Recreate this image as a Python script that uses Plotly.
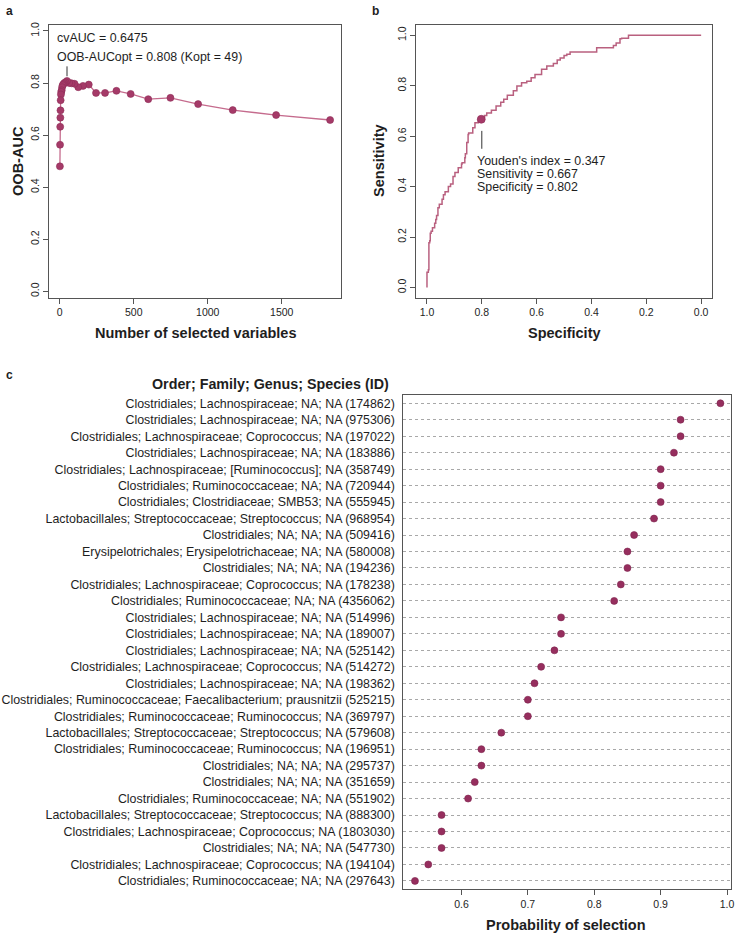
import plotly.graph_objects as go

# ---------------- Panel a data ----------------
n_vars = [1827, 1462, 1169, 935, 748, 598, 479, 383, 306, 245, 196, 157, 125, 100,
          80, 64, 49, 39, 31, 25, 20, 16, 13, 10, 8, 6, 5, 4, 3, 2, 1]
oob_auc = [0.658, 0.677, 0.696, 0.719, 0.743, 0.738, 0.758, 0.770, 0.762, 0.762,
           0.794, 0.789, 0.784, 0.797, 0.799, 0.800, 0.808, 0.803, 0.800, 0.796,
           0.792, 0.784, 0.772, 0.766, 0.756, 0.734, 0.695, 0.667, 0.632, 0.563, 0.480]
a_xticks = [0, 500, 1000, 1500]
unit_ticks = [0.0, 0.2, 0.4, 0.6, 0.8, 1.0]
unit_ticklabels = ["0.0", "0.2", "0.4", "0.6", "0.8", "1.0"]

# ---------------- Panel b data ----------------
roc_spec = [1.000, 1.000, 0.995, 0.993, 0.993, 0.990, 0.988, 0.985, 0.980, 0.972,
            0.968, 0.965, 0.960, 0.955, 0.945, 0.940, 0.934, 0.922, 0.914, 0.905,
            0.898, 0.886, 0.874, 0.872, 0.862, 0.860, 0.855, 0.855, 0.850, 0.848,
            0.833, 0.825, 0.813, 0.802, 0.790, 0.782, 0.765, 0.748, 0.731, 0.720,
            0.707, 0.685, 0.672, 0.655, 0.636, 0.620, 0.606, 0.582, 0.563, 0.539,
            0.525, 0.514, 0.500, 0.490, 0.478, 0.466, 0.381, 0.378, 0.320, 0.310,
            0.296, 0.290, 0.265, 0.247, 0.000]
roc_sens = [0.000, 0.057, 0.060, 0.070, 0.150, 0.177, 0.185, 0.215, 0.223, 0.237,
            0.255, 0.270, 0.285, 0.316, 0.330, 0.350, 0.368, 0.380, 0.400, 0.410,
            0.440, 0.456, 0.475, 0.490, 0.495, 0.514, 0.530, 0.560, 0.575, 0.607,
            0.613, 0.633, 0.653, 0.667, 0.675, 0.682, 0.692, 0.703, 0.720, 0.735,
            0.746, 0.762, 0.780, 0.799, 0.812, 0.818, 0.832, 0.845, 0.865, 0.878,
            0.888, 0.902, 0.910, 0.920, 0.925, 0.934, 0.934, 0.951, 0.951, 0.960,
            0.970, 0.986, 0.988, 1.000, 1.000]
youden_spec = [0.802]
youden_sens = [0.667]
b_xticks = [1.0, 0.8, 0.6, 0.4, 0.2, 0.0]
b_xticklabels = ["1.0", "0.8", "0.6", "0.4", "0.2", "0.0"]

# ---------------- Panel c data ----------------
taxa = [
    "Clostridiales; Lachnospiraceae; NA; NA (174862)",
    "Clostridiales; Lachnospiraceae; NA; NA (975306)",
    "Clostridiales; Lachnospiraceae; Coprococcus; NA (197022)",
    "Clostridiales; Lachnospiraceae; NA; NA (183886)",
    "Clostridiales; Lachnospiraceae; [Ruminococcus]; NA (358749)",
    "Clostridiales; Ruminococcaceae; NA; NA (720944)",
    "Clostridiales; Clostridiaceae; SMB53; NA (555945)",
    "Lactobacillales; Streptococcaceae; Streptococcus; NA (968954)",
    "Clostridiales; NA; NA; NA (509416)",
    "Erysipelotrichales; Erysipelotrichaceae; NA; NA (580008)",
    "Clostridiales; NA; NA; NA (194236)",
    "Clostridiales; Lachnospiraceae; Coprococcus; NA (178238)",
    "Clostridiales; Ruminococcaceae; NA; NA (4356062)",
    "Clostridiales; Lachnospiraceae; NA; NA (514996)",
    "Clostridiales; Lachnospiraceae; NA; NA (189007)",
    "Clostridiales; Lachnospiraceae; NA; NA (525142)",
    "Clostridiales; Lachnospiraceae; Coprococcus; NA (514272)",
    "Clostridiales; Lachnospiraceae; NA; NA (198362)",
    "Clostridiales; Ruminococcaceae; Faecalibacterium; prausnitzii (525215)",
    "Clostridiales; Ruminococcaceae; Ruminococcus; NA (369797)",
    "Lactobacillales; Streptococcaceae; Streptococcus; NA (579608)",
    "Clostridiales; Ruminococcaceae; Ruminococcus; NA (196951)",
    "Clostridiales; NA; NA; NA (295737)",
    "Clostridiales; NA; NA; NA (351659)",
    "Clostridiales; Ruminococcaceae; NA; NA (551902)",
    "Lactobacillales; Streptococcaceae; Streptococcus; NA (888300)",
    "Clostridiales; Lachnospiraceae; Coprococcus; NA (1803030)",
    "Clostridiales; NA; NA; NA (547730)",
    "Clostridiales; Lachnospiraceae; Coprococcus; NA (194104)",
    "Clostridiales; Ruminococcaceae; NA; NA (297643)",
]
prob_sel = [0.99, 0.93, 0.93, 0.92, 0.90, 0.90, 0.90, 0.89, 0.86, 0.85,
            0.85, 0.84, 0.83, 0.75, 0.75, 0.74, 0.72, 0.71, 0.70, 0.70,
            0.66, 0.63, 0.63, 0.62, 0.61, 0.57, 0.57, 0.57, 0.55, 0.53]
c_xticks = [0.6, 0.7, 0.8, 0.9, 1.0]
c_xticklabels = ["0.6", "0.7", "0.8", "0.9", "1.0"]

# ---------------- styling ----------------
W, H = 742, 935
FONT = "Liberation Sans, Arial, Helvetica, sans-serif"
TXT = "#1e1e1e"
LINE_COL = "#c56b8d"
MARK_COL = "#a53a68"
MARK_EDGE = "#8e2d58"
DOT_COL = "#962e5e"
AX_COL = "#555555"
TICK_SIZE = 10.5

def px_x(p):
    return p / W

def px_y(p):
    return 1 - p / H

fig = go.Figure()

fig.add_trace(go.Scatter(
    x=n_vars, y=oob_auc, mode="lines+markers",
    line=dict(color=LINE_COL, width=1.3),
    marker=dict(size=7, color=MARK_COL, line=dict(color=MARK_EDGE, width=0.6)),
    xaxis="x", yaxis="y", hoverinfo="x+y"))

fig.add_trace(go.Scatter(
    x=roc_spec, y=roc_sens, mode="lines", line=dict(color="#b9607f", width=1.5, shape="vh"),
    xaxis="x2", yaxis="y2"))
fig.add_trace(go.Scatter(
    x=youden_spec, y=youden_sens, mode="markers",
    marker=dict(size=8, color=MARK_COL, line=dict(color=MARK_EDGE, width=0.6)),
    xaxis="x2", yaxis="y2"))

c_pos = list(range(1, len(taxa) + 1))
fig.add_trace(go.Scatter(
    x=prob_sel, y=c_pos, mode="markers",
    marker=dict(size=7, color=DOT_COL, line=dict(color="#7e244d", width=0.6)),
    xaxis="x3", yaxis="y3", text=taxa, hoverinfo="text+x"))

box = dict(showline=True, mirror=True, linecolor=AX_COL, linewidth=1.2,
           showgrid=False, zeroline=False, ticks="outside", ticklen=5,
           tickcolor=AX_COL, tickfont=dict(size=TICK_SIZE, color=TXT, family=FONT))

top_dom = [px_y(295.5), px_y(22.3)]

fig.update_layout(
    width=W, height=H, margin=dict(l=0, r=0, t=0, b=0),
    paper_bgcolor="white", plot_bgcolor="white", showlegend=False,
    font=dict(family=FONT, color=TXT),
    xaxis=dict(box, domain=[px_x(49.3), px_x(342.3)], range=[-72, 1900],
               tickvals=a_xticks, anchor="y"),
    yaxis=dict(box, domain=top_dom, range=[-0.024, 1.022], tickvals=unit_ticks,
               ticktext=unit_ticklabels, tickangle=-90, anchor="x"),
    xaxis2=dict(box, domain=[px_x(417.7), px_x(715)], range=[1.04, -0.04],
                tickvals=b_xticks, ticktext=b_xticklabels, anchor="y2"),
    yaxis2=dict(box, domain=top_dom, range=[-0.04, 1.04], tickvals=unit_ticks,
                ticktext=unit_ticklabels, tickangle=-90, anchor="x2"),
    xaxis3=dict(box, domain=[px_x(405), px_x(734)], range=[0.5125, 1.006],
                tickvals=c_xticks, ticktext=c_xticklabels, anchor="y3"),
    yaxis3=dict(showline=True, mirror=True, linecolor=AX_COL, linewidth=1.2,
                zeroline=False, domain=[px_y(889), px_y(393.3)], range=[30.5, 0.5],
                tickvals=c_pos, ticktext=taxa, ticks="", showgrid=True,
                gridcolor="#a8a8a8", gridwidth=0.7, griddash="dot",
                ticklabelstandoff=5,
                tickfont=dict(size=12.4, color=TXT, family=FONT), anchor="x3"),
)

# guide segments
fig.add_shape(type="line", xref="x", yref="y", x0=49, x1=49, y0=0.826, y1=0.864,
              line=dict(color="#333333", width=1))
fig.add_shape(type="line", xref="x2", yref="y2", x0=0.80, x1=0.80, y0=0.55, y1=0.621,
              line=dict(color="#333333", width=1))

def ann(text, x, y, size=12.4, bold=False, xanchor="left", angle=0):
    fig.add_annotation(
        text=f"<b>{text}</b>" if bold else text, xref="paper", yref="paper",
        x=px_x(x), y=px_y(y), xanchor=xanchor, yanchor="middle", showarrow=False,
        textangle=angle, font=dict(size=size, color=TXT, family=FONT))

# panel letters
ann("a", 4, 8, size=12, bold=True)
ann("b", 372, 8, size=12, bold=True)
ann("c", 4, 373, size=12, bold=True)

# panel a texts
ann("cvAUC = 0.6475", 55, 35)
ann("OOB-AUCopt = 0.808 (Kopt = 49)", 55, 54)
ann("OOB-AUC", 18.5, 158, size=14.5, bold=True, xanchor="center", angle=-90)
ann("Number of selected variables", 196, 331.5, size=14.5, bold=True, xanchor="center")

# panel b texts
ann("Youden's index = 0.347", 476.5, 158.3)
ann("Sensitivity = 0.667", 476.5, 171.5)
ann("Specificity = 0.802", 476.5, 184.3)
ann("Sensitivity", 381, 158, size=14.5, bold=True, xanchor="center", angle=-90)
ann("Specificity", 567, 331.5, size=14.5, bold=True, xanchor="center")

# panel c texts
ann("Order; Family; Genus; Species (ID)", 271.5, 382.5, size=14.3, bold=True, xanchor="center")
ann("Probability of selection", 568, 925, size=14.5, bold=True, xanchor="center")

fig.write_html(
    "out.html",
    config={"displayModeBar": False},
    post_script="document.body.style.margin='0';document.body.style.overflow='hidden';",
)
